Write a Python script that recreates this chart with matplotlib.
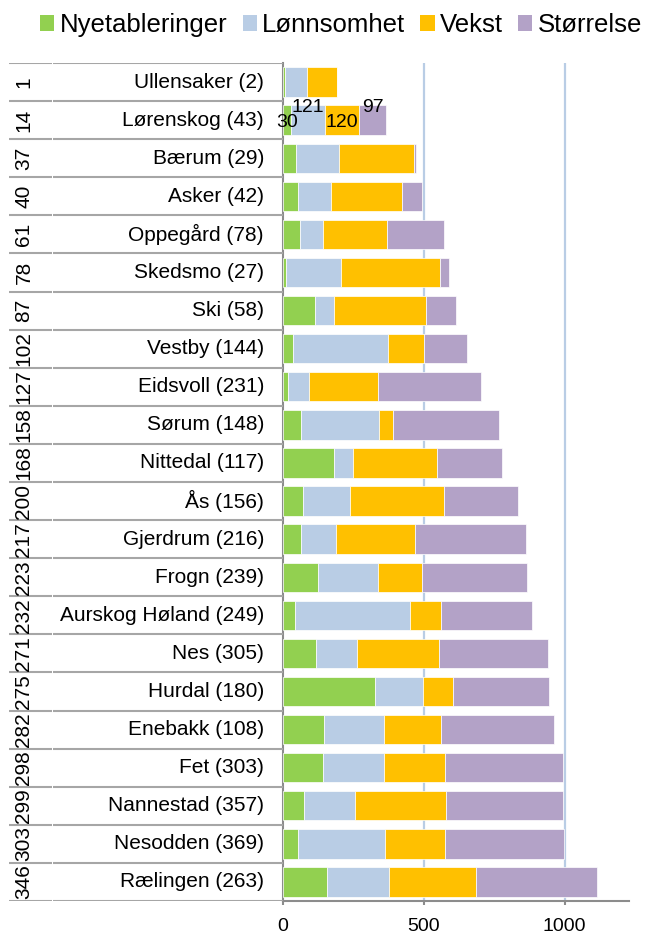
import matplotlib
matplotlib.use("Agg")
import matplotlib.pyplot as plt
from matplotlib.patches import Patch

plt.rcParams['font.family'] = ['Liberation Sans', 'DejaVu Sans']

ranks = [1, 14, 37, 40, 61, 78, 87, 102, 127, 158, 168, 200, 217, 223, 232, 271,
         275, 282, 298, 299, 303, 346]
names = ["Ullensaker (2)", "Lørenskog (43)", "Bærum (29)", "Asker (42)", "Oppegård (78)",
         "Skedsmo (27)", "Ski (58)", "Vestby (144)", "Eidsvoll (231)", "Sørum (148)",
         "Nittedal (117)", "Ås (156)", "Gjerdrum (216)", "Frogn (239)",
         "Aurskog Høland (249)", "Nes (305)", "Hurdal (180)", "Enebakk (108)",
         "Fet (303)", "Nannestad (357)", "Nesodden (369)", "Rælingen (263)"]
nyetableringer = [8, 30, 46, 54, 61, 12, 115, 38, 19, 65, 182, 73, 65, 126, 44, 118,
                  328, 146, 143, 76, 54, 156]
lonnsomhet = [77, 121, 154, 117, 81, 196, 68, 337, 74, 278, 66, 165, 125, 213, 408, 145,
              171, 214, 217, 181, 310, 222]
vekst = [106, 120, 266, 251, 229, 351, 324, 127, 245, 47, 300, 333, 280, 156, 110, 292,
         106, 202, 217, 321, 212, 307]
storrelse = [2, 97, 7, 72, 201, 32, 108, 152, 365, 376, 231, 262, 394, 372, 322, 385,
             340, 401, 416, 417, 421, 431]
series_names = ["Nyetableringer", "Lønnsomhet", "Vekst", "Størrelse"]
colors = ["#92D050", "#B9CDE5", "#FFC000", "#B3A2C7"]
xticks = [0, 500, 1000]
labelled_row = 1  # Lørenskog has data labels

W, H = 645, 935
fig = plt.figure(figsize=(W / 100, H / 100), dpi=100)

top_px, bot_px = 63, 901
x0_px, x1_px = 282.7, 629.3
bottom = (H - bot_px) / H
height = (bot_px - top_px) / H
ax = fig.add_axes([x0_px / W, bottom, (x1_px - x0_px) / W, height])

n = len(names)
ypos = list(range(n))
series = [nyetableringer, lonnsomhet, vekst, storrelse]
left = [0] * n
for vals, c, lab in zip(series, colors, series_names):
    ax.barh(ypos, vals, left=left, height=0.77, color=c, edgecolor='white',
            linewidth=0.5, label=lab, zorder=3)
    left = [l + v for l, v in zip(left, vals)]

# data labels for Lørenskog
acc = 0
offsets = [0.07, -0.34, 0.07, -0.34]
for vals, off in zip(series, offsets):
    v = vals[labelled_row]
    ax.text(acc + v / 2, labelled_row + off, str(v), ha='center', va='center',
            fontsize=14, color='black', zorder=5)
    acc += v

ax.set_xlim(0, 1229)
ax.set_ylim(n - 0.5, -0.5)
ax.set_xticks(xticks)
ax.set_xticklabels([str(t) for t in xticks], fontsize=14)
ax.set_yticks([])
for t in xticks[1:]:
    ax.axvline(t, color='#B9CDE5', lw=1.6, zorder=1)
for s in ['top', 'right']:
    ax.spines[s].set_visible(False)
for s in ['left', 'bottom']:
    ax.spines[s].set_color('#8C8C8C')
    ax.spines[s].set_linewidth(1.5)
ax.tick_params(axis='x', length=3, color='#8C8C8C', width=1.5, pad=9)

# left table of category labels
tab = fig.add_axes([0, bottom, x0_px / W, height])
tab.set_xlim(0, x0_px)
tab.set_ylim(n - 0.5, -0.5)
tab.axis('off')
for i in range(n + 1):
    yb = i - 0.5
    tab.plot([9, 51.5], [yb, yb], color='#A6A6A6', lw=1.5, solid_capstyle='butt')
    tab.plot([53, x0_px], [yb, yb], color='#A6A6A6', lw=1.5, solid_capstyle='butt')
for i, (r, nm) in enumerate(zip(ranks, names)):
    tab.text(24, i, str(r), rotation=90, ha='center', va='center', fontsize=15,
             rotation_mode='anchor')
    tab.text(264, i, nm, ha='right', va='center', fontsize=15)

handles = [Patch(facecolor=c, edgecolor='none') for c in colors]
fig.legend(handles, series_names, loc='center', bbox_to_anchor=(341 / W, 1 - 25 / H),
           ncol=4, frameon=False, fontsize=18.5, handlelength=0.55, handleheight=0.55,
           handletextpad=0.2, columnspacing=0.6, borderaxespad=0, borderpad=0)

fig.savefig("out.png", dpi=100)
